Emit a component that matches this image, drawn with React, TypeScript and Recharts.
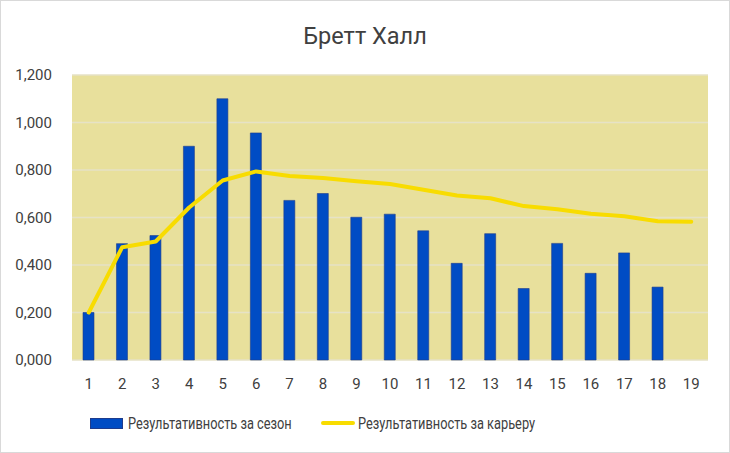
import { Bar, CartesianGrid, ComposedChart, Legend, Line, XAxis, YAxis } from "recharts"

const seasons = ["1", "2", "3", "4", "5", "6", "7", "8", "9", "10", "11", "12", "13", "14", "15", "16", "17", "18", "19"]

// Результативность за сезон (season 19 has no bar)
const seasonValues = [0.2, 0.49, 0.524, 0.9, 1.1, 0.956, 0.672, 0.701, 0.601, 0.614, 0.544, 0.407, 0.532, 0.301, 0.491, 0.365, 0.451, 0.307, null]

// Результативность за карьеру
const careerValues = [0.2, 0.475, 0.499, 0.642, 0.756, 0.794, 0.775, 0.766, 0.753, 0.741, 0.717, 0.693, 0.681, 0.648, 0.635, 0.616, 0.605, 0.584, 0.582]

const yTicks = [0, 0.2, 0.4, 0.6, 0.8, 1.0, 1.2]

const data = seasons.map((s, i) => ({
  season: s,
  perSeason: seasonValues[i],
  career: careerValues[i],
}))

const FONT = "Roboto, 'Liberation Sans', sans-serif"
const BLUE = "#004CC4"
const YELLOW = "#F8DC00"

const formatTick = (v: number) => v.toFixed(3).replace(".", ",")

// legend text in the source is a narrow face, squeeze Roboto to match
const narrow = { display: "inline-block", transform: "scaleX(0.8)", transformOrigin: "left center", whiteSpace: "nowrap" as const }

function ChartLegend() {
  return (
    <div style={{ position: "relative", height: 20, fontFamily: FONT, fontSize: 16, color: "#404040" }}>
      <div style={{ position: "absolute", left: 89, top: 0, display: "flex", alignItems: "center", height: 20 }}>
        <span style={{ display: "inline-block", width: 31, height: 9, background: BLUE, border: "0.5px solid #1E3C8C", marginRight: 5 }} />
        <span style={narrow}>Результативность за сезон</span>
      </div>
      <div style={{ position: "absolute", left: 320, top: 0, display: "flex", alignItems: "center", height: 20 }}>
        <span style={{ display: "inline-block", width: 34, height: 4, background: YELLOW, borderRadius: 2, marginRight: 3 }} />
        <span style={narrow}>Результативность за карьеру</span>
      </div>
    </div>
  )
}

export default function App() {
  return (
    <div
      style={{
        position: "absolute",
        left: 0,
        top: 0,
        width: 730,
        height: 453,
        background: "#fff",
        boxSizing: "border-box",
        border: "1px solid #D9D9D9",
      }}
    >
      <div
        style={{
          position: "absolute",
          top: 21,
          width: "100%",
          textAlign: "center",
          fontFamily: FONT,
          fontSize: 23.5,
          color: "#404040",
        }}
      >
        Бретт Халл
      </div>
      <ComposedChart
        width={728}
        height={451}
        data={data}
        margin={{ top: 74, right: 21, left: 0, bottom: 42 }}
        barCategoryGap={0}
      >
        <CartesianGrid vertical={false} stroke="#E6E2C6" strokeWidth={1.5} fill="#E8E09C" />
        <XAxis
          dataKey="season"
          axisLine={false}
          tickLine={false}
          tickMargin={12}
          height={30}
          tick={{ fill: "#404040", fontSize: 15, fontFamily: FONT }}
        />
        <YAxis
          domain={[0, 1.2]}
          ticks={yTicks}
          tickFormatter={formatTick}
          axisLine={false}
          tickLine={false}
          width={71}
          tickMargin={14}
          tick={{ fill: "#404040", fontSize: 15, fontFamily: FONT }}
        />
        <Legend
          verticalAlign="bottom"
          content={() => <ChartLegend />}
          wrapperStyle={{ position: "absolute", top: 412, left: 0, width: 728, height: 20 }}
        />
        <Bar
          dataKey="perSeason"
          name="Результативность за сезон"
          fill={BLUE}
          stroke="#1E3C8C"
          strokeWidth={0.6}
          barSize={11}
          isAnimationActive={false}
        />
        <Line
          dataKey="career"
          name="Результативность за карьеру"
          type="linear"
          stroke={YELLOW}
          strokeWidth={4}
          strokeLinejoin="round"
          strokeLinecap="round"
          dot={false}
          activeDot={false}
          isAnimationActive={false}
        />
      </ComposedChart>
    </div>
  )
}
